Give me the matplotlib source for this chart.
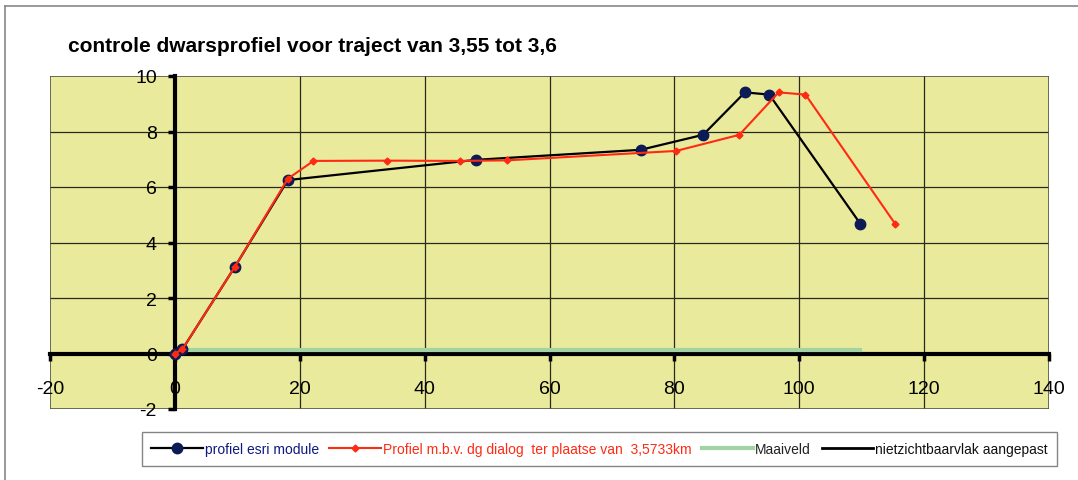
import matplotlib
matplotlib.use("Agg")
import matplotlib.pyplot as plt
from matplotlib.lines import Line2D
from matplotlib.patches import Rectangle

# ---- data ----
title = "controle dwarsprofiel voor traject van 3,55 tot 3,6"
esri_x = [0, 1.2, 9.6, 18.1, 48.3, 74.6, 84.6, 91.3, 95.2, 109.8]
esri_y = [0, 0.15, 3.12, 6.25, 6.98, 7.34, 7.88, 9.41, 9.33, 4.67]
dg_x = [0, 1.2, 9.6, 18.1, 22.2, 34.0, 45.6, 53.2, 80.3, 90.4, 96.7, 101.0, 115.4]
dg_y = [0, 0.15, 3.12, 6.30, 6.94, 6.95, 6.94, 6.96, 7.30, 7.88, 9.41, 9.33, 4.66]
maaiveld_x = [1.2, 109.8]
maaiveld_y = [0.12, 0.12]
nzb_x = []
nzb_y = []
labels = ["profiel esri module",
          "Profiel m.b.v. dg dialog  ter plaatse van  3,5733km",
          "Maaiveld",
          "nietzichtbaarvlak aangepast"]
x_ticks = [-20, 0, 20, 40, 60, 80, 100, 120, 140]
y_ticks = [-2, 0, 2, 4, 6, 8, 10]

plt.rcParams['font.family'] = ['Liberation Sans', 'DejaVu Sans']

W, H = 1078, 481
fig = plt.figure(figsize=(W / 100, H / 100), dpi=100)
fig.patch.set_facecolor('white')

# outer frame lines (left & top)
fig.add_artist(Line2D([5 / W, 5 / W], [0, 1 - 7 / H], color='#888888', lw=1.2))
fig.add_artist(Line2D([5 / W, 1], [1 - 7 / H, 1 - 7 / H], color='#888888', lw=1.2))

ax = fig.add_axes([50 / W, 1 - 410 / H, (1049 - 50) / W, (410 - 77) / H])
ax.set_facecolor('#EAEA9C')
ax.set_xlim(-20, 140)
ax.set_ylim(-2, 10)

# grid
for gx in x_ticks[1:-1]:
    ax.axvline(gx, color='#2a2a1a', lw=0.9, zorder=1)
for gy in y_ticks[1:-1]:
    ax.axhline(gy, color='#2a2a1a', lw=0.9, zorder=1)

# plot-area border
ax.add_patch(Rectangle((0, 0), 1, 1, transform=ax.transAxes, fill=False,
                       edgecolor='#555544', lw=1.2, zorder=1.5))

# axis lines through the origin
ax.spines['top'].set_visible(False)
ax.spines['right'].set_visible(False)
ax.spines['left'].set_position(('data', 0))
ax.spines['bottom'].set_position(('data', 0))
for s in ('left', 'bottom'):
    ax.spines[s].set_linewidth(3)
    ax.spines[s].set_color('black')
    ax.spines[s].set_zorder(2)

ax.set_xticks(x_ticks)
ax.set_yticks(y_ticks)
ax.set_xticklabels([str(v) for v in x_ticks])
ax.set_yticklabels([str(v) for v in y_ticks])
ax.tick_params(axis='x', direction='out', length=5, width=2.5, pad=14, labelsize=14)
ax.tick_params(axis='y', direction='out', length=5, width=2.5, pad=8, labelsize=14)

# series
l3, = ax.plot(maaiveld_x, maaiveld_y, color='#A3D3A3', lw=3, zorder=2.5)
l1, = ax.plot(esri_x, esri_y, color='black', lw=1.6, marker='o', ms=7.5,
              mfc='#0c1a55', mec='#0c1a55', zorder=3)
l2, = ax.plot(dg_x, dg_y, color='#FF2A12', lw=1.5, marker='D', ms=3.5,
              mfc='#FF2A12', mec='#FF2A12', zorder=4)
l4, = ax.plot(nzb_x, nzb_y, color='black', lw=2, zorder=3)

fig.text(68 / W, 1 - 47 / H, title, fontsize=15, fontweight='bold',
         va='center', ha='left')

leg = fig.legend([l1, l2, l3, l4], labels, ncol=4, loc='center',
                 bbox_to_anchor=((142 + 1057) / 2 / W, 1 - 450 / H),
                 frameon=True, fancybox=False, edgecolor='#666666',
                 fontsize=10, handlelength=3.7, columnspacing=0.75,
                 handletextpad=0.15, borderpad=0.7, borderaxespad=0,
                 labelcolor=['#0c1a80', '#FF2A12', '#222222', '#111111'])
leg.get_frame().set_linewidth(1.0)

fig.savefig('out.png', dpi=100, facecolor='white')
